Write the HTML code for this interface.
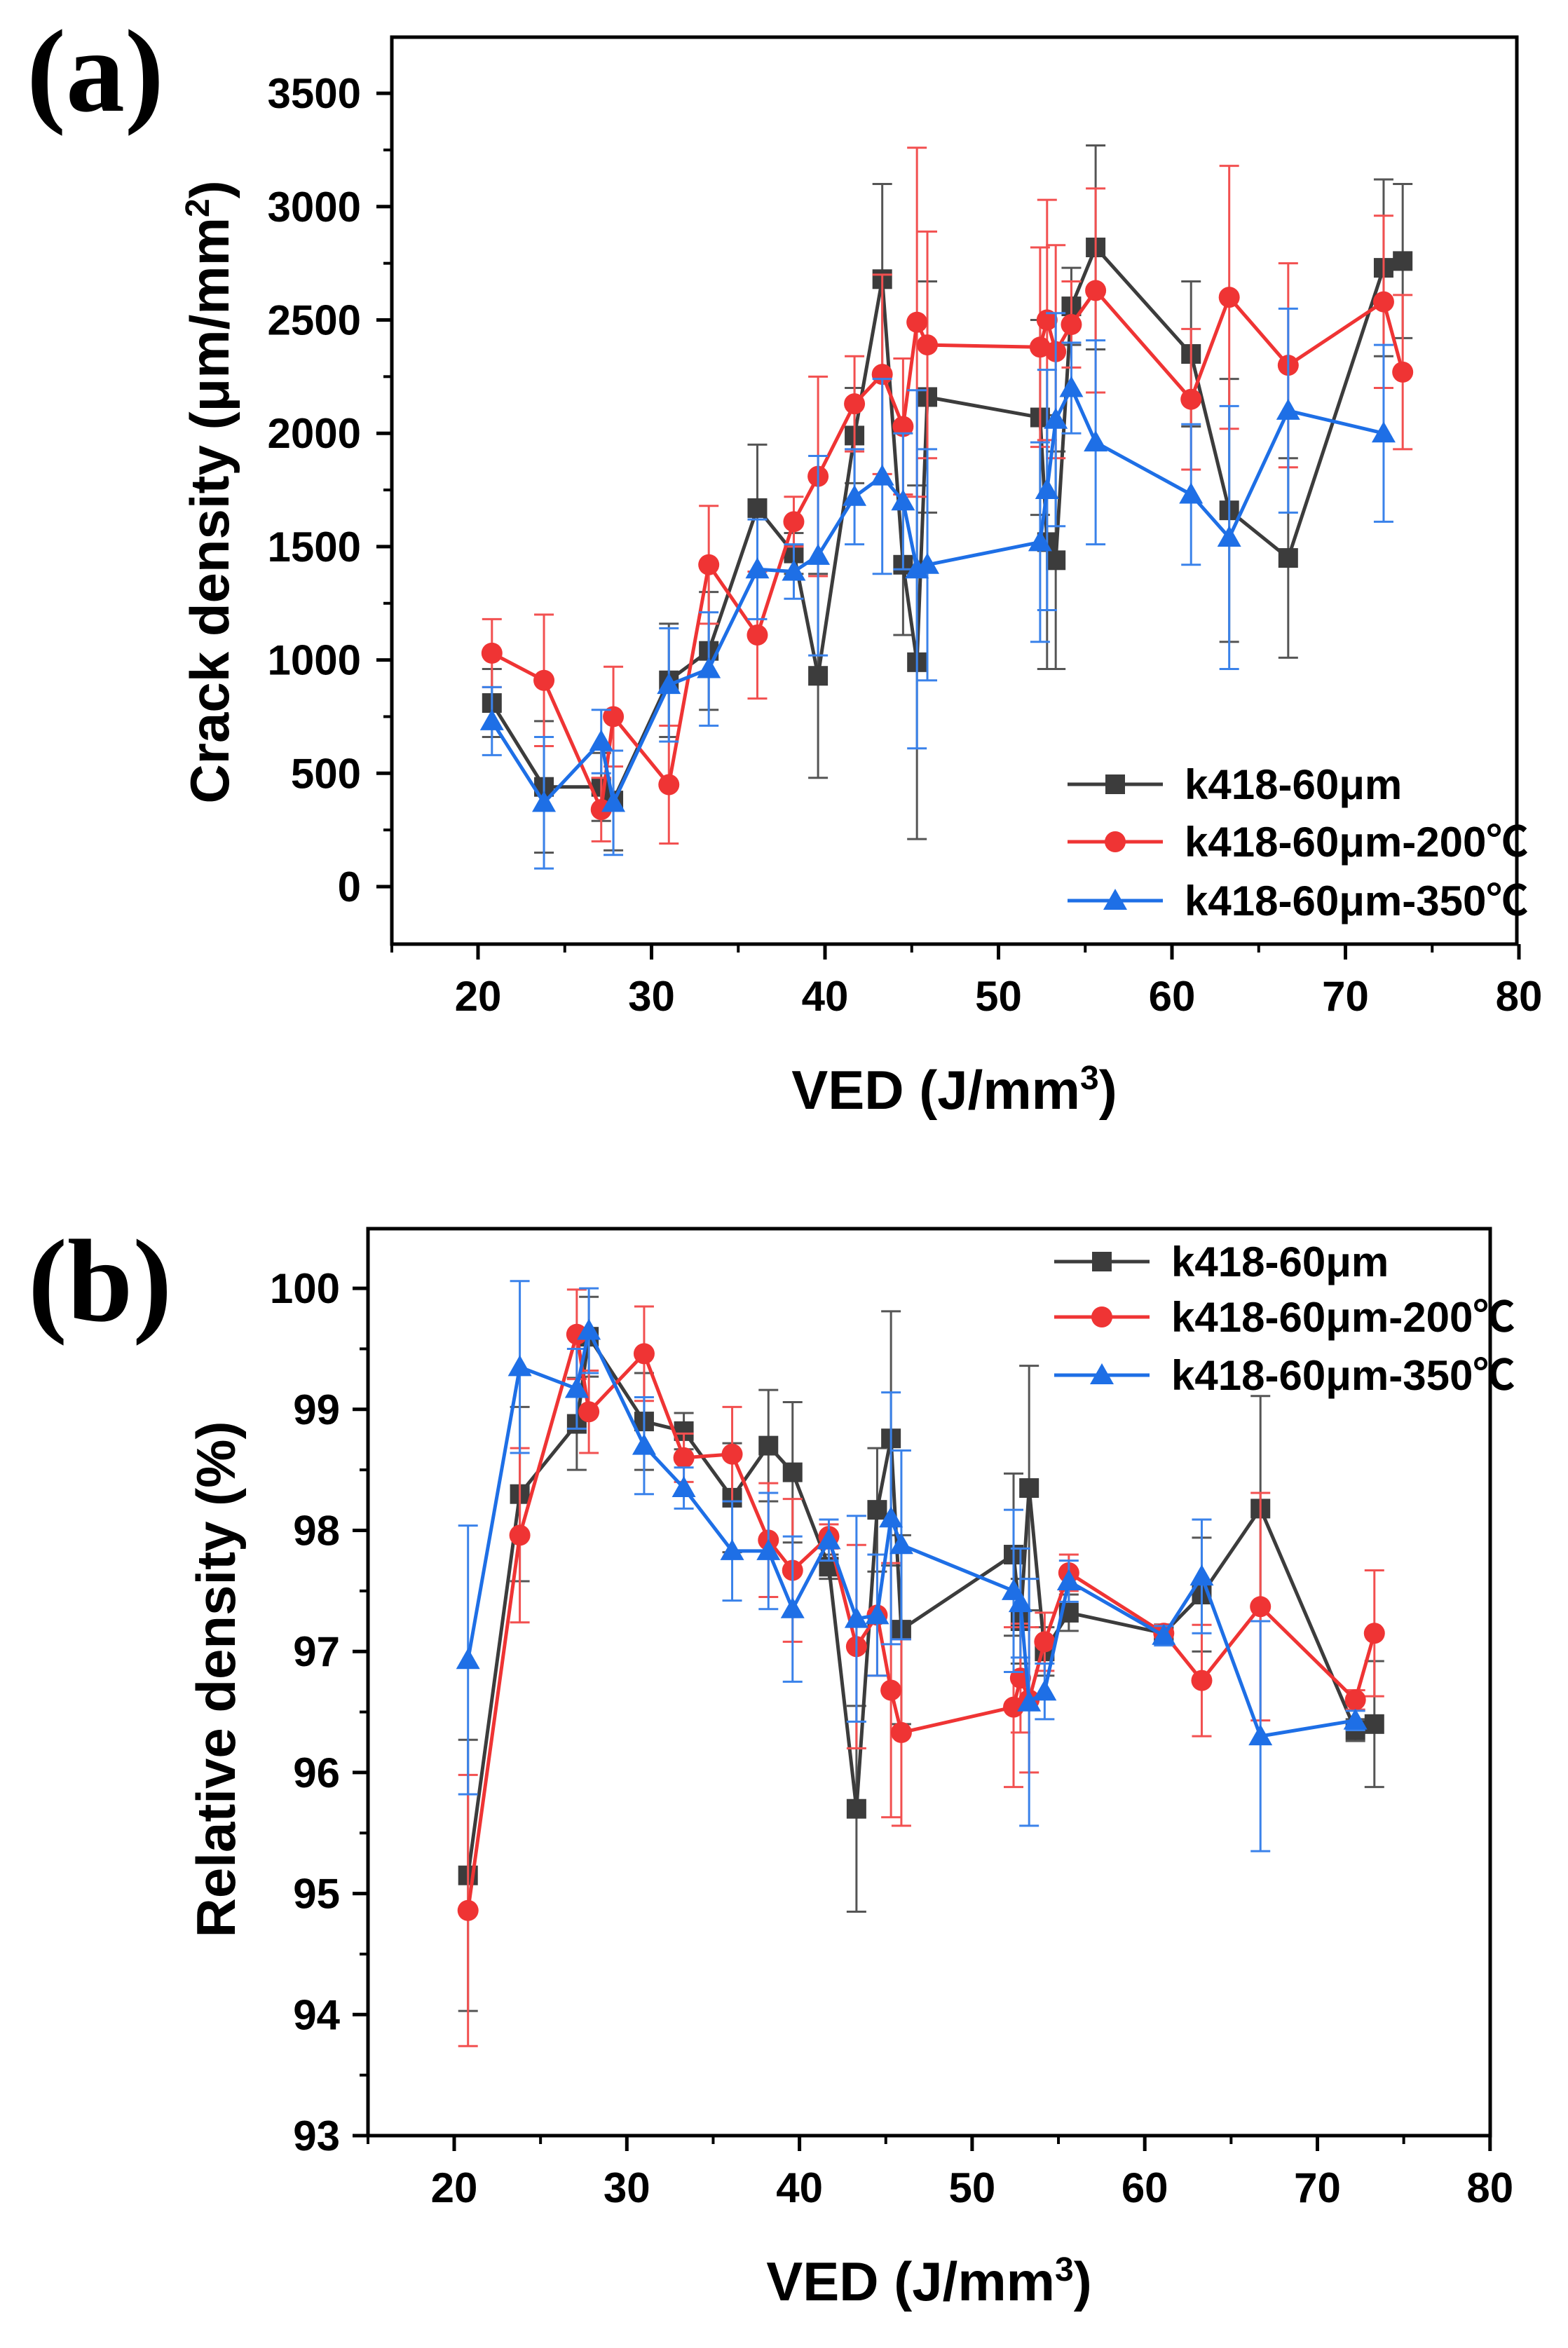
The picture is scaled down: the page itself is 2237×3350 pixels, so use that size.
<!DOCTYPE html>
<html>
<head>
<meta charset="utf-8">
<style>
html,body{margin:0;padding:0;background:#fff;}
svg{display:block;}
text{font-family:"Liberation Sans","Noto Sans CJK SC",sans-serif;font-weight:bold;fill:#000;}
.lab{font-family:"Liberation Serif",serif;font-weight:bold;}
</style>
</head>
<body>
<svg id="fig" width="2237" height="3350" viewBox="0 0 2237 3350" xmlns="http://www.w3.org/2000/svg">
  <g id="panelA"></g>
  <g id="panelB"></g>
</svg>
<script>
// ---------- shared x categories (VED, J/mm3) ----------
const vedX = [20.8, 23.8, 27.1, 27.8, 31.0, 33.3, 36.1, 38.2, 39.6, 41.7, 43.3, 44.5, 45.3, 45.9, 52.4, 52.8, 53.3, 54.2, 55.6, 61.1, 63.3, 66.7, 72.2, 73.3];
const xTicks = [20, 30, 40, 50, 60, 70, 80];
const seriesNames = ["k418-60μm", "k418-60μm-200℃", "k418-60μm-350℃"];

// ---------- panel (a) crack density ----------
const crackBlack = [810, 440, 440, 380, 910, 1040, 1670, 1470, 930, 1990, 2680, 1420, 990, 2160, 2070, 1520, 1440, 2560, 2820, 2350, 1660, 1450, 2730, 2760];
const crackBlackErr = [150, 290, 150, 220, 250, 260, 280, 90, 450, 210, 420, 310, 780, 510, 430, 560, 480, 170, 450, 320, 580, 440, 390, 340];
const crackRed = [1030, 910, 340, 750, 450, 1420, 1110, 1610, 1810, 2130, 2260, 2030, 2490, 2390, 2380, 2500, 2360, 2480, 2630, 2150, 2600, 2300, 2580, 2270];
const crackRedErr = [150, 290, 140, 220, 260, 260, 280, 110, 440, 210, 440, 300, 770, 500, 440, 530, 470, 190, 450, 310, 580, 450, 380, 340];
const crackBlueX = [20.8, 23.8, 27.1, 27.8, 31.0, 33.3, 36.1, 38.2, 39.6, 41.7, 43.3, 44.5, 45.3, 45.9, 52.4, 52.8, 53.3, 54.2, 55.6, 61.1, 63.3, 66.7, 72.2];
const crackBlue = [730, 370, 640, 370, 890, 960, 1400, 1390, 1460, 1720, 1810, 1700, 1400, 1420, 1520, 1750, 2060, 2200, 1960, 1730, 1540, 2100, 2000];
const crackBlueErr = [150, 290, 140, 230, 250, 250, 220, 120, 440, 210, 430, 300, 790, 510, 440, 530, 470, 200, 450, 310, 580, 450, 390];
const crackTicks = [0, 500, 1000, 1500, 2000, 2500, 3000, 3500];

// ---------- panel (b) relative density ----------
const relBlack = [95.15, 98.30, 98.88, 99.60, 98.90, 98.82, 98.27, 98.70, 98.48, 97.70, 95.70, 98.17, 98.76, 97.18, 97.80, 97.25, 98.35, 97.00, 97.32, 97.15, 97.47, 98.18, 96.35, 96.40];
const relBlackErr = [1.12, 0.72, 0.38, 0.33, 0.40, 0.15, 0.45, 0.46, 0.58, 0.10, 0.85, 0.51, 1.05, 0.78, 0.67, 0.35, 1.01, 0.20, 0.15, 0.05, 0.47, 0.93, 0.09, 0.52];
const relRed = [94.86, 97.96, 99.62, 98.98, 99.46, 98.60, 98.63, 97.92, 97.67, 97.95, 97.04, 97.30, 96.68, 96.33, 96.54, 96.78, 96.60, 97.08, 97.65, 97.15, 96.76, 97.37, 96.60, 97.15];
const relRedErr = [1.12, 0.72, 0.37, 0.34, 0.39, 0.20, 0.39, 0.47, 0.59, 0.10, 0.84, 0.50, 1.05, 0.77, 0.66, 0.45, 0.60, 0.24, 0.15, 0.07, 0.46, 0.94, 0.08, 0.52];
const relBlueX = [20.8, 23.8, 27.1, 27.8, 31.0, 33.3, 36.1, 38.2, 39.6, 41.7, 43.3, 44.5, 45.3, 45.9, 52.4, 52.8, 53.3, 54.2, 55.6, 61.1, 63.3, 66.7, 72.2];
const relBlue = [96.93, 99.35, 99.17, 99.65, 98.70, 98.35, 97.83, 97.83, 97.35, 97.92, 97.27, 97.30, 98.10, 97.88, 97.50, 97.40, 96.58, 96.67, 97.58, 97.13, 97.62, 96.30, 96.43];
const relBlueErr = [1.11, 0.71, 0.33, 0.35, 0.40, 0.17, 0.41, 0.48, 0.60, 0.17, 0.85, 0.50, 1.04, 0.78, 0.67, 0.45, 1.02, 0.23, 0.17, 0.08, 0.47, 0.95, 0.08];
const relTicks = [93, 94, 95, 96, 97, 98, 99, 100];

const NS = "http://www.w3.org/2000/svg";
const COLORS = ["#3c3c3c", "#ef3434", "#1e6fe6"];
const ERRC = ["#555555", "#f25050", "#3a82ea"];
const SHAPES = ["square", "circle", "triangle"];

function mk(parent, tag, attrs, txt) {
  const e = document.createElementNS(NS, tag);
  for (const k in attrs) e.setAttribute(k, attrs[k]);
  if (txt !== undefined) e.textContent = txt;
  parent.appendChild(e);
  return e;
}

function marker(g, shape, cx, cy, color) {
  let m;
  if (shape === "square") {
    m = mk(g, "rect", {x: cx - 14, y: cy - 14, width: 28, height: 28, fill: color});
  } else if (shape === "circle") {
    m = mk(g, "circle", {cx: cx, cy: cy, r: 15, fill: color});
  } else {
    m = mk(g, "polygon", {points: `${cx},${cy - 17} ${cx - 17},${cy + 13} ${cx + 17},${cy + 13}`, fill: color});
  }
  return m;
}

function drawPanel(root, cfg) {
  const xs = v => cfg.x0 + (v - 20) / 10 * cfg.xPer10;
  const ys = v => cfg.y0 - (v - cfg.yBase) / cfg.yStep * cfg.yPer;
  const frame = mk(root, "rect", {x: cfg.L, y: cfg.T, width: cfg.R - cfg.L, height: cfg.B - cfg.T, fill: "none", stroke: "#000", "stroke-width": 5});
  
  
  const yAxis = mk(root, "g", {});
  
  
  cfg.yTicks.forEach(t => {
    const y = ys(t);
    mk(yAxis, "line", {x1: cfg.L - 22, x2: cfg.L, y1: y, y2: y, stroke: "#000", "stroke-width": 5});
    const tl = mk(yAxis, "text", {x: cfg.yLabR, y: y + 21, "text-anchor": "end", "font-size": 60}, String(t));
    
    
  });
  for (let i = 0; i < cfg.yTicks.length + 1; i++) {
    const v = cfg.yTicks[0] + (i - 0.5) * cfg.yStep;
    const y = ys(v);
    if (y > cfg.T + 5 && y < cfg.B - 5) mk(yAxis, "line", {x1: cfg.L - 12, x2: cfg.L, y1: y, y2: y, stroke: "#000", "stroke-width": 4});
  }
  const xAxis = mk(root, "g", {});
  
  
  mk(xAxis, "line", {x1: cfg.L, x2: cfg.L, y1: cfg.B, y2: cfg.B + 12, stroke: "#000", "stroke-width": 4});
  xTicks.forEach(t => {
    const x = xs(t);
    mk(xAxis, "line", {x1: x, x2: x, y1: cfg.B, y2: cfg.B + 22, stroke: "#000", "stroke-width": 5});
    if (t < 80) mk(xAxis, "line", {x1: xs(t + 5), x2: xs(t + 5), y1: cfg.B, y2: cfg.B + 12, stroke: "#000", "stroke-width": 4});
    const tl = mk(xAxis, "text", {x: x, y: cfg.B + 95, "text-anchor": "middle", "font-size": 60}, String(t));
    
    
  });
  const xt = mk(root, "text", {x: (cfg.L + cfg.R) / 2, y: cfg.B + 235, "text-anchor": "middle", "font-size": 78});
  xt.innerHTML = 'VED (J/mm<tspan dy="-28" font-size="48">3</tspan><tspan dy="28">)</tspan>';
  
  
  const yt = mk(root, "text", {x: 0, y: 0, "text-anchor": "middle", "font-size": 78, transform: `translate(${cfg.yTitleX},${cfg.yTitleY}) rotate(-90)`});
  yt.innerHTML = cfg.yTitle;
  
  
  const pl = mk(root, "text", {x: cfg.labX, y: cfg.labY, "font-size": 168, "class": "lab"}, cfg.label);
  
  
  cfg.series.forEach((s, si) => {
    const g = mk(root, "g", {});
    
    
    const eg = mk(g, "g", {});
    
    
    s.xv.forEach((xv, i) => {
      const x = xs(xv), lo = ys(s.v[i] - s.e[i]), hi = ys(s.v[i] + s.e[i]);
      mk(eg, "line", {x1: x, x2: x, y1: lo, y2: hi, stroke: ERRC[si], "stroke-width": 3});
      mk(eg, "line", {x1: x - 14, x2: x + 14, y1: lo, y2: lo, stroke: ERRC[si], "stroke-width": 3});
      mk(eg, "line", {x1: x - 14, x2: x + 14, y1: hi, y2: hi, stroke: ERRC[si], "stroke-width": 3});
    });
    const pts = s.xv.map((xv, i) => xs(xv).toFixed(1) + "," + ys(s.v[i]).toFixed(1)).join(" ");
    const pl2 = mk(g, "polyline", {points: pts, fill: "none", stroke: COLORS[si], "stroke-width": 5, "stroke-linejoin": "round"});
    
    
    s.xv.forEach((xv, i) => {
      const m = marker(g, SHAPES[si], xs(xv), ys(s.v[i]), COLORS[si]);
      
      
    });
  });
  const lg = mk(root, "g", {});
  
  
  seriesNames.forEach((n, i) => {
    const y = cfg.legY[i];
    const eg = mk(lg, "g", {});
    
    
    mk(eg, "line", {x1: cfg.legX, x2: cfg.legX + 136, y1: y, y2: y, stroke: COLORS[i], "stroke-width": 5});
    marker(eg, SHAPES[i], cfg.legX + 68, y, COLORS[i]);
    mk(eg, "text", {x: cfg.legX + 167, y: y + 21, "font-size": 60}, n);
  });
}

drawPanel(document.getElementById("panelA"), {
  L: 559, R: 2164, T: 53, B: 1347, x0: 682, xPer10: 247.5,
  y0: 1265, yBase: 0, yStep: 500, yPer: 161.7, yTicks: crackTicks, yLabR: 515,
  yTitle: 'Crack density (μm/mm<tspan dy="-28" font-size="48">2</tspan><tspan dy="28">)</tspan>',
  yTitleX: 326, yTitleY: 702, label: "(a)", labX: 38, labY: 158,
  legX: 1523, legY: [1119, 1201, 1285],
  series: [
    {xv: vedX, v: crackBlack, e: crackBlackErr},
    {xv: vedX, v: crackRed, e: crackRedErr},
    {xv: crackBlueX, v: crackBlue, e: crackBlueErr}
  ]
});

drawPanel(document.getElementById("panelB"), {
  L: 525, R: 2126, T: 1753, B: 3047, x0: 648, xPer10: 246.3,
  y0: 3047, yBase: 93, yStep: 1, yPer: 172.7, yTicks: relTicks, yLabR: 485,
  yTitle: 'Relative density (%)',
  yTitleX: 335, yTitleY: 2396, label: "(b)", labX: 40, labY: 1884,
  legX: 1504, legY: [1800, 1879, 1962],
  series: [
    {xv: vedX, v: relBlack, e: relBlackErr},
    {xv: vedX, v: relRed, e: relRedErr},
    {xv: relBlueX, v: relBlue, e: relBlueErr}
  ]
});
</script>
</body>
</html>
